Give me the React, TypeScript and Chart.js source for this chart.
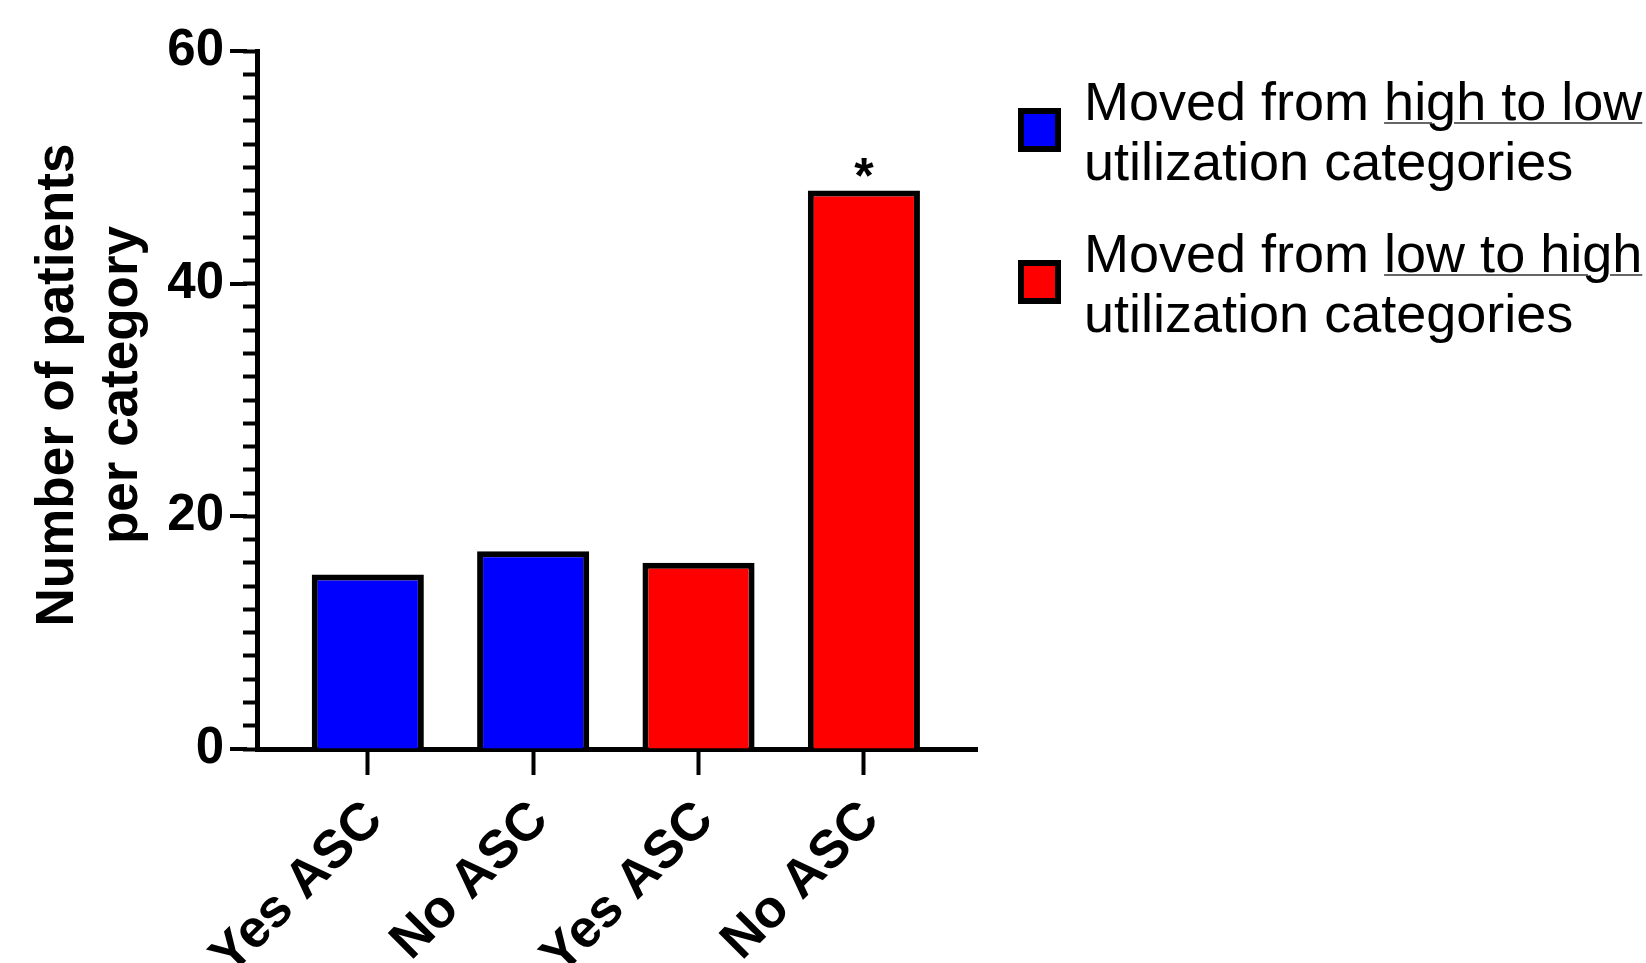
import React, { useEffect, useRef } from 'react';
import { Chart, registerables } from 'chart.js';

Chart.register(...registerables);

const FONT = '"Liberation Sans", Arial, Helvetica, sans-serif';

// ---- data ----
const categories = ['Yes ASC', 'No ASC', 'Yes ASC', 'No ASC'];
const highToLowValues = [15, 17, null, null];
const lowToHighValues = [null, null, 16, 48];
const significance = ['', '', '', '*'];
const yMajorTicks = [0, 20, 40, 60];
const yTitleLines = ['Number of patients', 'per category'];
const legendPrefix = 'Moved from ';
const legendUnderlined = ['high to low', 'low to high'];
const legendSecondLine = 'utilization categories';
const seriesColors = ['#0000FF', '#FF0000'];

const toPoints = (vals: (number | null)[]) =>
  vals.map((v, i) => (v === null ? null : { x: i, y: v })).filter((p) => p !== null);

const allValues = categories.map((_, i) => (highToLowValues[i] ?? lowToHighValues[i]) as number);

const overlayPlugin = {
  id: 'overlay',
  afterDraw(chart: any) {
    const { ctx, chartArea, scales } = chart;
    const xs = scales.x;
    const ys = scales.y;
    ctx.save();
    ctx.strokeStyle = '#000';
    ctx.lineWidth = 4;
    ctx.lineCap = 'butt';
    yMajorTicks.forEach((v) => {
      const py = Math.round(ys.getPixelForValue(v));
      ctx.beginPath();
      ctx.moveTo(chartArea.left - 27, py);
      ctx.lineTo(chartArea.left - 10, py);
      ctx.stroke();
    });
    ctx.fillStyle = '#000';
    ctx.font = `bold 50px ${FONT}`;
    ctx.textAlign = 'center';
    ctx.textBaseline = 'alphabetic';
    significance.forEach((s, i) => {
      if (!s) return;
      ctx.fillText(s, xs.getPixelForValue(i), ys.getPixelForValue(allValues[i]) + 2);
    });
    ctx.font = `bold 53px ${FONT}`;
    const cy = (chartArea.top + chartArea.bottom) / 2 - 15;
    const baselines = [73, 137];
    yTitleLines.forEach((line, k) => {
      ctx.save();
      ctx.translate(baselines[k], cy);
      ctx.rotate(-Math.PI / 2);
      ctx.fillText(line, 0, 0);
      ctx.restore();
    });
    ctx.restore();
  },
};

export default function App() {
  const canvasRef = useRef<HTMLCanvasElement | null>(null);

  useEffect(() => {
    document.body.style.margin = '0';
    document.body.style.overflow = 'hidden';
    const canvas = canvasRef.current;
    if (!canvas) return;
    const chart = new Chart(canvas, {
      type: 'bar',
      data: {
        datasets: [
          {
            label: legendPrefix + legendUnderlined[0],
            data: toPoints(highToLowValues) as any,
            backgroundColor: seriesColors[0],
            borderColor: '#000',
            borderWidth: 6,
            stack: 's',
          },
          {
            label: legendPrefix + legendUnderlined[1],
            data: toPoints(lowToHighValues) as any,
            backgroundColor: seriesColors[1],
            borderColor: '#000',
            borderWidth: 6,
            stack: 's',
          },
        ],
      },
      options: {
        responsive: false,
        animation: false,
        devicePixelRatio: 1,
        categoryPercentage: 1,
        barPercentage: 0.678,
        layout: { padding: { left: 0, top: 51, right: 669, bottom: 0 } },
        plugins: {
          legend: { display: false },
          tooltip: { enabled: false },
          title: { display: false },
        },
        scales: {
          x: {
            type: 'linear',
            stacked: true,
            offset: false,
            min: -0.67,
            max: 3.684,
            z: 1,
            afterFit: (s: any) => {
              s.height = 214;
            },
            afterBuildTicks: (s: any) => {
              s.ticks = categories.map((_, i) => ({ value: i }));
            },
            ticks: {
              autoSkip: false,
              minRotation: 45,
              maxRotation: 45,
              padding: 14,
              labelOffset: 7,
              color: '#000',
              font: { family: FONT, size: 53, weight: 'bold' },
              callback: (v: any) => categories[Math.round(Number(v))] ?? '',
            },
            grid: {
              display: true,
              offset: false,
              drawOnChartArea: false,
              drawTicks: true,
              tickLength: 26,
              tickWidth: 4,
              tickColor: '#000',
            },
            border: { display: true, color: '#000', width: 5 },
          },
          y: {
            type: 'linear',
            stacked: true,
            min: 0,
            max: 60,
            z: 1,
            afterFit: (s: any) => {
              s.width = 257;
            },
            ticks: {
              stepSize: 2,
              autoSkip: false,
              padding: 19,
              color: '#000',
              font: { family: FONT, size: 51, weight: 'bold' },
              callback: (v: any) => (yMajorTicks.includes(Number(v)) ? String(v) : ''),
            },
            grid: {
              display: true,
              drawOnChartArea: false,
              drawTicks: true,
              tickLength: 14,
              tickWidth: 4,
              tickColor: '#000',
            },
            border: { display: true, color: '#000', width: 5 },
          },
        },
      },
      plugins: [overlayPlugin],
    });
    return () => chart.destroy();
  }, []);

  const textStyle: React.CSSProperties = {
    position: 'absolute',
    left: 1084,
    fontFamily: FONT,
    fontSize: 54,
    lineHeight: '60px',
    color: '#000',
    whiteSpace: 'nowrap',
  };
  const boxStyle = (color: string, top: number): React.CSSProperties => ({
    position: 'absolute',
    left: 1018,
    top,
    width: 43,
    height: 44,
    boxSizing: 'border-box',
    border: '6px solid #000',
    background: color,
  });

  return (
    <div style={{ position: 'relative', width: 1646, height: 963, overflow: 'hidden', background: '#fff' }}>
      <canvas ref={canvasRef} width={1646} height={963} style={{ position: 'absolute', left: 0, top: 0, display: 'block' }} />
      {legendUnderlined.map((u, k) => (
        <React.Fragment key={k}>
          <div style={boxStyle(seriesColors[k], 108 + k * 152)} />
          <div style={{ ...textStyle, top: 71 + k * 152 }}>
            {legendPrefix}
            <span
              style={{
                textDecoration: 'underline',
                textDecorationColor: '#666',
                textDecorationThickness: '2px',
                textUnderlineOffset: '2px',
              }}
            >
              {u}
            </span>
            <br />
            {legendSecondLine}
          </div>
        </React.Fragment>
      ))}
    </div>
  );
}
